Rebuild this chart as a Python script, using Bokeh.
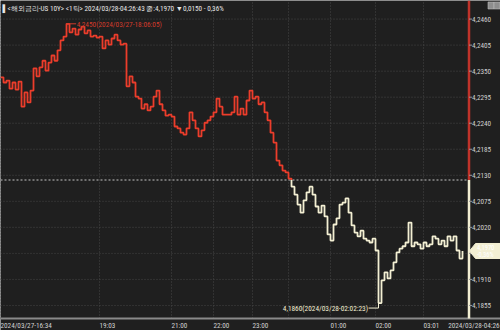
import numpy as np
from bokeh.plotting import figure
from bokeh.models import Range1d
from bokeh.core.properties import value
from bokeh.embed import file_html
from bokeh.resources import INLINE

# ---------------- data ----------------
title_text = "▌<해외금리-US 10Y> <1틱> 2024/03/28-04:26:43 종:4,1970 ▼0,0150 - 0,36%"
prev_close = 4.2120
values = [
    4.2337, 4.2326, 4.2330, 4.2313, 4.2326, 4.2311, 4.2328, 4.2275, 4.2305, 4.2284,
    4.2309, 4.2356, 4.2339, 4.2358, 4.2372, 4.2351, 4.2368, 4.2383, 4.2372, 4.2394,
    4.2415, 4.2423, 4.2450, 4.2432, 4.2440, 4.2427, 4.2438, 4.2444, 4.2430, 4.2436,
    4.2423, 4.2425, 4.2421, 4.2423, 4.2398, 4.2415, 4.2406, 4.2419, 4.2427, 4.2415,
    4.2406, 4.2408, 4.2318, 4.2339, 4.2326, 4.2296, 4.2292, 4.2271, 4.2280, 4.2267,
    4.2275, 4.2296, 4.2309, 4.2280, 4.2267, 4.2256, 4.2258, 4.2254, 4.2233, 4.2229,
    4.2220, 4.2216, 4.2229, 4.2263, 4.2246, 4.2229, 4.2212, 4.2225, 4.2241, 4.2246,
    4.2254, 4.2263, 4.2292, 4.2275, 4.2258, 4.2258, 4.2258, 4.2263, 4.2296, 4.2258,
    4.2271, 4.2258, 4.2288, 4.2309, 4.2292, 4.2296, 4.2280, 4.2284, 4.2263, 4.2246,
    4.2220, 4.2199, 4.2161, 4.2151, 4.2140, 4.2136, 4.2123, 4.2106, 4.2089, 4.2068,
    4.2051, 4.2077, 4.2094, 4.2106, 4.2089, 4.2064, 4.2051, 4.2066, 4.2043, 4.2005,
    4.1992, 4.2026, 4.2039, 4.2068, 4.2072, 4.2081, 4.2051, 4.2024, 4.2009, 4.2001,
    4.2013, 4.1996, 4.1992, 4.1988, 4.1996, 4.1971, 4.1860, 4.1908, 4.1925, 4.1912,
    4.1929, 4.1946, 4.1967, 4.1975, 4.1980, 4.1988, 4.2030, 4.1980, 4.1988, 4.1984,
    4.1975, 4.1988, 4.1980, 4.1984, 4.2001, 4.1996, 4.1984, 4.1992, 4.1980, 4.2001,
    4.1992, 4.2001, 4.1971, 4.1954, 4.1970,
]
x_tick_idx = [0, 33, 57, 71, 84, 96, 110, 125, 141]
x_tick_labels = ["2024/03/27-16:34", "19:03", "21:00", "22:00", "23:00", "", "01:00", "02:00", "03:01"]
last_time_label = "2024/03/28-04:26"
y_ticks = [4.2460, 4.2405, 4.2350, 4.2295, 4.2240, 4.2185, 4.2130, 4.2075, 4.2020, 4.1965, 4.1910, 4.1855]
max_label = "4,2450(2024/03/27-18:06:05)"
min_label = "4,1860(2024/03/28-02:02:23)"
last_value = "4,1970"
last_change = "-0,36%"

# ---------------- style / layout ----------------
BG = "#1f1f1f"
RED = "#ec3d2b"
RED_DARK = "#d23b2c"
RED_AXIS = "#c0332a"
CREAM = "#f3efd3"
GRID = "#474747"
TXT = "#cfcfcf"
FONT = "Roboto Condensed"

W, H = 500, 330
DATA_PX = 462.0        # pixel width spanned by the data
PX_PER_UNIT = 4733.0   # vertical pixels per unit of yield
Y0_PX = 179.5          # pixel row of the previous close
AXIS_X_PX = 468.5      # price axis
AXIS_Y_PX = 318.0      # time axis

v = np.array(values)
N = len(v)
idx = np.arange(N)
X_PER_PX = (N - 1) / DATA_PX


def xd(px):
    return px * X_PER_PX


def yd(py):
    return prev_close + (Y0_PX - py) / PX_PER_UNIT


def comma(t):
    return f"{t:.4f}".replace(".", ",")


p = figure(width=W, height=H, output_backend="svg", toolbar_location=None,
           x_range=Range1d(0, xd(W)), y_range=Range1d(yd(H), yd(0)),
           x_axis_location=None, y_axis_location=None,
           min_border=0, min_border_left=0, min_border_right=0,
           min_border_top=0, min_border_bottom=0)
p.background_fill_color = BG
p.border_fill_color = BG
p.outline_line_color = None
p.grid.visible = False

AX = xd(AXIS_X_PX)
AY = yd(AXIS_Y_PX)

# grid
p.segment(x0=[0] * len(y_ticks), x1=[AX] * len(y_ticks), y0=y_ticks, y1=y_ticks,
          line_color=GRID, line_dash="1 2", line_width=1)
p.segment(x0=x_tick_idx, x1=x_tick_idx, y0=[AY] * len(x_tick_idx), y1=[yd(0)] * len(x_tick_idx),
          line_color=GRID, line_dash="1 2", line_width=1)

# previous close reference line
p.segment(x0=[0], x1=[AX], y0=[prev_close], y1=[prev_close],
          line_color="#c4c4c4", line_dash="2 2", line_width=1)

# series, red above / cream below the previous close
k = int(np.argmax(v < prev_close))
red_x = list(idx[:k]) + [k]
red_y = list(v[:k]) + [prev_close]
white_x = [k] + list(idx[k:])
white_y = [prev_close] + list(v[k:])
p.step(red_x, red_y, mode="after", line_color=RED, line_width=1.8)
p.step(white_x, white_y, mode="after", line_color=CREAM, line_width=1.8)

# time axis
p.segment(x0=[0], x1=[xd(W)], y0=[AY], y1=[AY], line_color="#8a8a8a", line_width=2)
lab_x = [x for x, t in zip(x_tick_idx, x_tick_labels) if t]
lab_t = [t for t in x_tick_labels if t]
p.text(x=lab_x, y=[AY] * len(lab_x), text=lab_t, y_offset=2, text_color=TXT,
       text_font=value(FONT), text_font_size="7.2px", text_baseline="top", text_align="left")
p.text(x=[xd(W - 1)], y=[AY], text=[last_time_label], y_offset=2, text_color=TXT,
       text_font=value(FONT), text_font_size="7.2px", text_baseline="top", text_align="right")

# price axis
p.segment(x0=[AX, AX], y0=[yd(0), prev_close], x1=[AX, AX], y1=[prev_close, AY],
          line_color=[RED_AXIS, CREAM], line_width=2.5)
p.segment(x0=[AX] * len(y_ticks), x1=[xd(AXIS_X_PX + 3)] * len(y_ticks), y0=y_ticks, y1=y_ticks,
          line_color="#9a9a9a", line_width=1)
p.text(x=[AX] * len(y_ticks), y=y_ticks, text=[comma(t) for t in y_ticks], x_offset=3,
       text_color=TXT, text_font=value(FONT), text_font_size="7.2px",
       text_baseline="middle", text_align="left")

# last-value marker on the price axis
lv = v[-1]
box_px_x = [AXIS_X_PX + 0.5, AXIS_X_PX + 6.5, W, W, AXIS_X_PX + 6.5]
box_px_y = [0, -7.5, -7.5, 7.5, 7.5]
p.patch([xd(px) for px in box_px_x], [lv - py / PX_PER_UNIT for py in box_px_y],
        fill_color=CREAM, line_color=CREAM)
p.text(x=[xd(AXIS_X_PX + 8)] * 2, y=[lv + 3.6 / PX_PER_UNIT, lv - 3.6 / PX_PER_UNIT],
       text=[last_value, last_change], text_color="#ffffff", text_font=value(FONT),
       text_font_size="6.5px", text_baseline="middle", text_align="left")

# max annotation
imax = int(np.argmax(v))
p.line([imax, imax + 3.2], [v[imax], v[imax]], line_color=RED_DARK, line_width=1)
p.text([imax + 3.4], [v[imax]], text=[max_label], text_color=RED_DARK, y_offset=1,
       text_font=value(FONT), text_font_size="7.3px", text_baseline="middle", text_align="left")

# min annotation
imin = int(np.argmin(v))
y_lab = v[imin] - 5 / PX_PER_UNIT
p.line([imin, imin, imin - 3.3], [v[imin], y_lab, y_lab], line_color=CREAM, line_width=1)
p.text([imin - 3.5], [y_lab], text=[min_label], text_color=CREAM,
       text_font=value(FONT), text_font_size="7.3px", text_baseline="middle", text_align="right")

# header
p.text(x=[xd(2)], y=[yd(7.5)], text=[title_text], text_color="#e6e6e6",
       text_font=value(FONT), text_font_size="7.2px", text_baseline="middle", text_align="left")

# small window buttons in the top-right corner
p.rect(x=[xd(490.5), xd(496.5)], y=[yd(5)] * 2, width=6, height=7,
       width_units="screen", height_units="screen",
       fill_color="#8e8e8e", line_color="#bdbdbd", line_width=0.6)

open("out.html", "w").write(file_html(p, INLINE))
